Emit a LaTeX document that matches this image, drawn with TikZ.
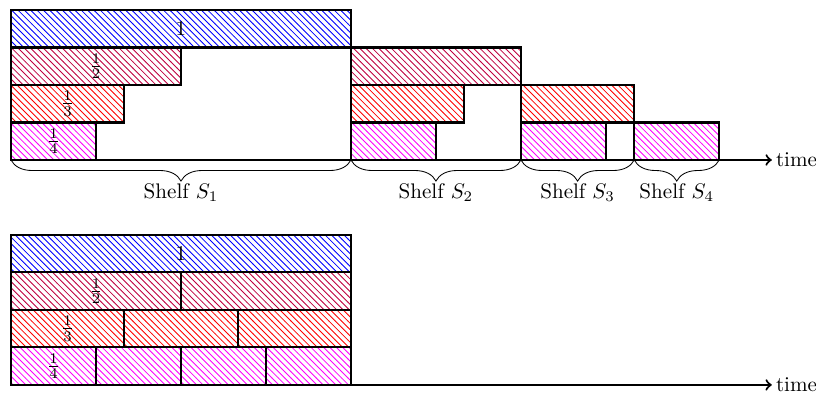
\documentclass[tikz,border=0pt]{standalone}
\usetikzlibrary{patterns,decorations.pathreplacing}

\tikzset{
  jobone/.style={draw=black, line width=1pt, pattern=north west lines, pattern color=blue},
  jobhalf/.style={draw=black, line width=1pt, pattern=north west lines, pattern color=purple},
  jobthird/.style={draw=black, line width=1pt, pattern=north west lines, pattern color=red},
  jobquarter/.style={draw=black, line width=1pt, pattern=north west lines, pattern color=magenta},
  shelfbrace/.style={decorate, decoration={brace, mirror, amplitude=10pt}},
  timeaxis/.style={line width=1pt, ->}
}

\begin{document}
\begin{tikzpicture}[x=5.667cm, y=0.625cm]
      \useasboundingbox (-0.0324,-6.32) rectangle (2.368,4.267);
      % shelf schedule
      \draw[jobone] (0,3) rectangle (1,4);
      \draw[jobhalf] (0,2) rectangle (0.5,3);
      \draw[jobthird] (0,1) rectangle (1/3,2);
      \draw[jobquarter] (0,0) rectangle (0.25,1);
      \draw[jobhalf] (1,2) rectangle (1.5,3);
      \draw[jobthird] (1,1) rectangle (4/3,2);
      \draw[jobquarter] (1,0) rectangle (1.25,1);
      \draw[jobthird] (1.5,1) rectangle (11/6,2);
      \draw[jobquarter] (1.5,0) rectangle (1.75,1);
      \draw[jobquarter] (11/6,0) rectangle (25/12,1);
      \draw
        (0.5,3.5) node (one){$1$}
        (0.25,2.5) node (half){$\frac{1}{2}$}
        (1/6,1.5) node (third){$\frac{1}{3}$}
        (0.125,0.5) node (quarter){$\frac{1}{4}$};
      \coordinate (s0) at (0,0);
      \coordinate (s1) at (1,0);
      \coordinate (s2) at (1.5,0);
      \coordinate (s3) at (11/6,0);
      \coordinate (s4) at (25/12,0);
      \coordinate (tend) at (2.238,0);
      \draw[timeaxis] (s0) -- (tend) node[right, inner sep=1.5pt] (time){time};
      \draw[shelfbrace] (s0) -- (s1) node[midway, yshift=-0.55cm] (shelf1){Shelf $S_1$};
      \draw[shelfbrace] (s1) -- (s2) node[midway, yshift=-0.55cm] (shelf2){Shelf $S_2$};
      \draw[shelfbrace] (s2) -- (s3) node[midway, yshift=-0.55cm] (shelf3){Shelf $S_3$};
      \draw[shelfbrace] (s3) -- (s4) node[midway, yshift=-0.55cm] (shelf4){Shelf $S_4$};
      % packed schedule
      \draw[jobone] (0,-3) rectangle (1,-2);
      \draw[jobhalf] (0,-4) rectangle (0.5,-3);
      \draw[jobhalf] (0.5,-4) rectangle (1,-3);
      \draw[jobthird] (0,-5) rectangle (1/3,-4);
      \draw[jobthird] (1/3,-5) rectangle (2/3,-4);
      \draw[jobthird] (2/3,-5) rectangle (1,-4);
      \draw[jobquarter] (0,-6) rectangle (0.25,-5);
      \draw[jobquarter] (0.25,-6) rectangle (0.5,-5);
      \draw[jobquarter] (0.5,-6) rectangle (0.75,-5);
      \draw[jobquarter] (0.75,-6) rectangle (1,-5);
      \draw
        (0.5,-2.5) node (oneb){$1$}
        (0.25,-3.5) node (halfb){$\frac{1}{2}$}
        (1/6,-4.5) node (thirdb){$\frac{1}{3}$}
        (0.125,-5.5) node (quarterb){$\frac{1}{4}$};
      \coordinate (b0) at (0,-6);
      \coordinate (bend) at (2.238,-6);
      \draw[timeaxis] (b0) -- (bend) node[right, inner sep=1.5pt] (timeb){time};
    \end{tikzpicture}
\end{document}
